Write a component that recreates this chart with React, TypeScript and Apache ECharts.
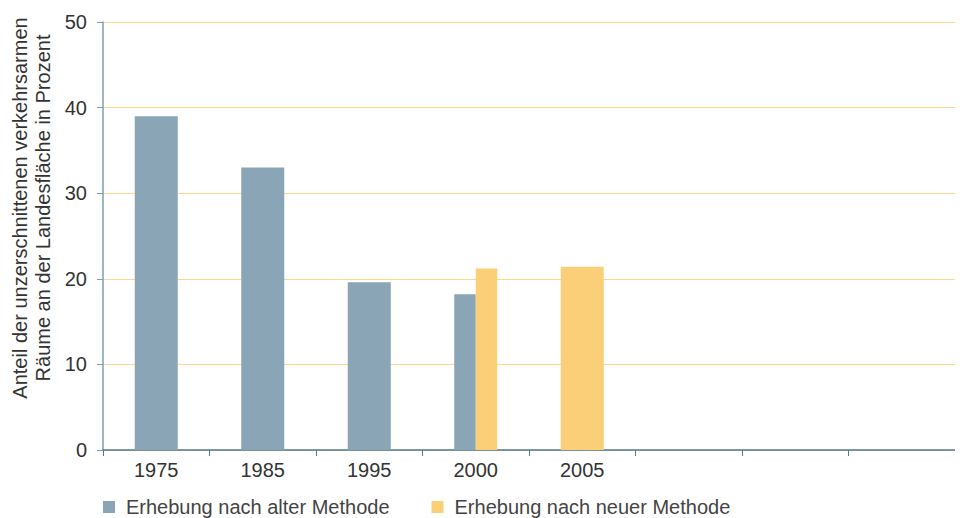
import React, { useEffect, useRef } from "react";
import * as echarts from "echarts";

const categories = ["1975", "1985", "1995", "2000", "2005", "", "", ""];
const oldMethod: (number | null)[] = [39, 33, 19.6, 18.2, null, null, null, null];
const newMethod: (number | null)[] = [null, null, null, 21.2, 21.4, null, null, null];
const yTicks = [0, 10, 20, 30, 40, 50];
const yAxisTitle = "Anteil der unzerschnittenen verkehrsarmen\nRäume an der Landesfläche in Prozent";

const OLD_NAME = "Erhebung nach alter Methode";
const NEW_NAME = "Erhebung nach neuer Methode";
const OLD_COLOR = "#8aa5b5";
const NEW_COLOR = "#fbcf77";

export default function App() {
  const ref = useRef<HTMLDivElement>(null);
  useEffect(() => {
    if (!ref.current) return;
    const chart = echarts.init(ref.current, undefined, { renderer: "svg" });
    const both = categories.map((_, i) => oldMethod[i] != null && newMethod[i] != null);
    const oldSingle = oldMethod.map((v, i) => (both[i] ? null : v));
    const newSingle = newMethod.map((v, i) => (both[i] ? null : v));
    const oldPair = oldMethod.map((v, i) => (both[i] ? v : null));
    const newPair = newMethod.map((v, i) => (both[i] ? v : null));
    const font = "Liberation Sans";
    const fs = 20;
    chart.setOption({
      animation: false,
      textStyle: { fontFamily: font },
      grid: { left: 95, right: 8, top: 14, bottom: 68, containLabel: false, outerBoundsMode: "none" },
      graphic: [
        {
          type: "text",
          x: 23,
          y: 200,
          rotation: Math.PI / 2,
          style: {
            text: yAxisTitle,
            fontSize: 20,
            fontFamily: font,
            fill: "#333",
            lineHeight: 23,
            align: "center",
            verticalAlign: "middle",
          },
        },
      ],
      legend: {
        left: 90,
        top: 484,
        icon: "rect",
        itemWidth: 12,
        itemHeight: 12,
        itemGap: 42,
        data: [OLD_NAME, NEW_NAME],
        textStyle: { fontSize: fs, color: "#444", fontFamily: font, padding: [0, 0, 0, 6] },
      },
      xAxis: [
        {
          type: "category",
          data: categories,
          axisLine: { lineStyle: { color: "#4f7a8f", width: 1.5 } },
          axisTick: { show: true, length: 6, lineStyle: { color: "#4f7a8f" } },
          axisLabel: { fontSize: fs, color: "#333", margin: 10, fontFamily: font },
        },
        {
          type: "category",
          data: categories,
          show: false,
        },
      ],
      yAxis: {
        type: "value",
        min: yTicks[0],
        max: yTicks[yTicks.length - 1],
        interval: 10,
        axisLine: { show: true, lineStyle: { color: "#7f9fb0", width: 1.5 } },
        axisTick: { show: true, length: 6, lineStyle: { color: "#7f9fb0" } },
        axisLabel: { fontSize: fs, color: "#333", margin: 16, fontFamily: font },
        splitLine: { lineStyle: { color: "#fcd98a", width: 1 } },
      },
      series: [
        { type: "bar", name: OLD_NAME, xAxisIndex: 0, data: oldSingle, barWidth: 43, barGap: "-100%", itemStyle: { color: OLD_COLOR } },
        { type: "bar", name: NEW_NAME, xAxisIndex: 0, data: newSingle, barWidth: 43, barGap: "-100%", itemStyle: { color: NEW_COLOR } },
        { type: "bar", name: OLD_NAME, xAxisIndex: 1, data: oldPair, barWidth: 21.5, barGap: 0, itemStyle: { color: OLD_COLOR } },
        { type: "bar", name: NEW_NAME, xAxisIndex: 1, data: newPair, barWidth: 21.5, barGap: 0, itemStyle: { color: NEW_COLOR } },
      ],
    });
    return () => chart.dispose();
  }, []);
  return <div ref={ref} style={{ width: 955, height: 510 }} />;
}
